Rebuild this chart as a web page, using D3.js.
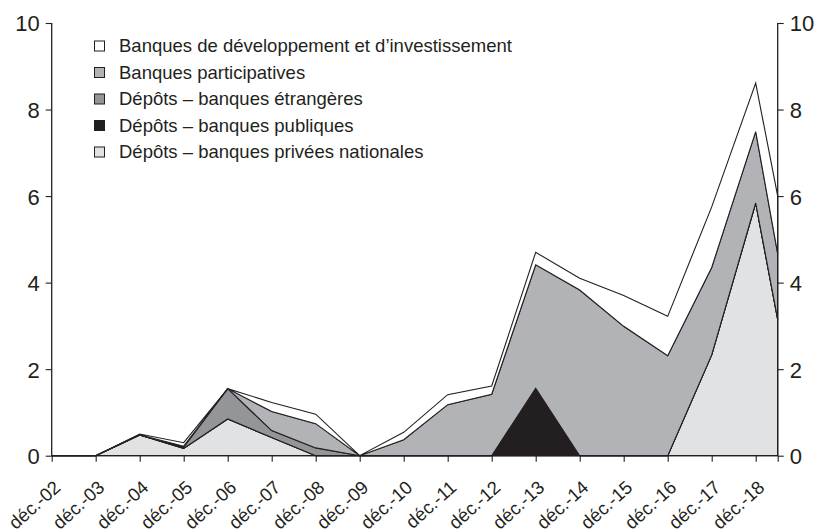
<!DOCTYPE html>
<html>
<head>
    <meta charset="utf-8">
    <script src="https://d3js.org/d3.v7.min.js"></script>
    <style>
        .xlab { transform-box: view-box; transform-origin: 0 0; }
    </style>
</head>
<body style="margin: 0; padding: 0; background: #fff;">
    <div id="container" style="width: 819px; height: 531px;"></div>

    <script>
        // catégories (fin d'année) + dernier point (mi-2019, sans libellé)
        var categories = ["déc.-02", "déc.-03", "déc.-04", "déc.-05", "déc.-06", "déc.-07", "déc.-08", "déc.-09",
            "déc.-10", "déc.-11", "déc.-12", "déc.-13", "déc.-14", "déc.-15", "déc.-16", "déc.-17", "déc.-18"];
        var xIndex = [0, 1, 2, 3, 4, 5, 6, 7, 8, 9, 10, 11, 12, 13, 14, 15, 16, 16.5];

        var privees = [0, 0, 0.48, 0.17, 0.85, 0.42, 0, 0, 0, 0, 0, 0, 0, 0, 0, 2.33, 5.84, 3.15];
        var publiques = [0, 0, 0, 0, 0, 0, 0, 0, 0, 0, 0, 1.56, 0, 0, 0, 0, 0, 0];
        var etrangeres = [0, 0, 0, 0.03, 0.70, 0.16, 0.18, 0, 0, 0, 0, 0, 0, 0, 0, 0, 0, 0];
        var participatives = [0, 0, 0, 0.02, 0, 0.44, 0.56, 0, 0.37, 1.18, 1.42, 2.85, 3.83, 2.99, 2.31, 2.02, 1.65, 1.52];
        var developpement = [0, 0, 0.02, 0.08, 0, 0.21, 0.22, 0, 0.17, 0.23, 0.19, 0.29, 0.27, 0.71, 0.91, 1.40, 1.12, 1.33];

        var yTicks = [0, 2, 4, 6, 8, 10];

        // séries, de bas en haut
        var series = [
            { key: "privees", name: "Dépôts – banques privées nationales", color: "#e1e2e4", values: privees },
            { key: "publiques", name: "Dépôts – banques publiques", color: "#231f20", values: publiques },
            { key: "etrangeres", name: "Dépôts – banques étrangères", color: "#939598", values: etrangeres },
            { key: "participatives", name: "Banques participatives", color: "#b1b3b6", values: participatives },
            { key: "developpement", name: "Banques de développement et d’investissement", color: "#ffffff", values: developpement }
        ];

        var rows = xIndex.map(function (x, i) {
            var r = { x: x };
            series.forEach(function (s) { r[s.key] = s.values[i]; });
            return r;
        });

        var width = 819, height = 531;
        var svg = d3.select("#container").append("svg")
            .attr("width", width)
            .attr("height", height)
            .style("font-family", "'Liberation Sans', Arial, sans-serif");

        var x = d3.scaleLinear().domain([0, 16.5]).range([51.7, 777.7]);
        var y = d3.scaleLinear().domain([0, 10]).range([455.7, 23]);

        var stack = d3.stack().keys(series.map(s => s.key));
        var layers = stack(rows);

        var area = d3.area()
            .x(d => x(d.data.x))
            .y0(d => y(d[0]))
            .y1(d => y(d[1]));

        svg.append("g").selectAll("path")
            .data(layers)
            .enter().append("path")
            .attr("d", area)
            .style("fill", (d, i) => series[i].color)
            .style("stroke", "#231f20")
            .style("stroke-width", 1.1)
            .style("stroke-linejoin", "miter");

        // axe gauche
        var left = svg.append("g")
            .attr("transform", "translate(" + x(0) + ",0)")
            .call(d3.axisLeft(y).tickValues(yTicks).tickSize(6).tickPadding(6));
        // axe droit
        var right = svg.append("g")
            .attr("transform", "translate(" + x(16.5) + ",0)")
            .call(d3.axisRight(y).tickValues(yTicks).tickSize(6).tickPadding(6));
        [left, right].forEach(function (g) {
            g.attr("font-size", null).attr("font-family", null);
            g.selectAll(".domain").attr("d", "M0," + y(10) + "V" + y(0)).style("stroke", "#231f20").style("stroke-width", 1.3);
            g.selectAll("line").style("stroke", "#231f20").style("stroke-width", 1.1);
            g.selectAll("text").style("font-size", "22px").style("fill", "#231f20").attr("dy", "0.36em");
        });

        // axe horizontal
        var bottom = svg.append("g")
            .attr("transform", "translate(0," + y(0) + ")")
            .call(d3.axisBottom(x).tickValues(xIndex.slice(0, 17).concat([16.5])).tickSize(6).tickFormat(""));
        bottom.select(".domain").attr("d", "M" + x(0) + ",0H" + x(16.5)).style("stroke", "#231f20").style("stroke-width", 1.3);
        bottom.selectAll("line").style("stroke", "#231f20").style("stroke-width", 1.1);

        // libellés inclinés
        svg.append("g").selectAll("g")
            .data(categories)
            .enter().append("g")
            .attr("transform", (d, i) => "translate(" + (x(i) + 10) + ",489)")
            .append("text")
            .attr("class", "xlab")
            .attr("transform", "rotate(-42)")
            .style("transform", "rotate(-42deg)")
            .attr("text-anchor", "end")
            .style("font-size", "18.5px")
            .style("fill", "#231f20")
            .text(d => d);

        // légende
        var legend = svg.append("g").selectAll("g")
            .data(series.slice().reverse())
            .enter().append("g")
            .attr("transform", (d, i) => "translate(94," + (46 + i * 26.5) + ")");
        legend.append("rect")
            .attr("x", 0.5).attr("y", -5)
            .attr("width", 10).attr("height", 10)
            .style("fill", d => d.color)
            .style("stroke", "#231f20")
            .style("stroke-width", 1);
        legend.append("text")
            .attr("x", 25).attr("y", 0).attr("dy", "0.35em")
            .style("font-size", "18.5px")
            .style("fill", "#231f20")
            .text(d => d.name);
    </script>
</body>
</html>
